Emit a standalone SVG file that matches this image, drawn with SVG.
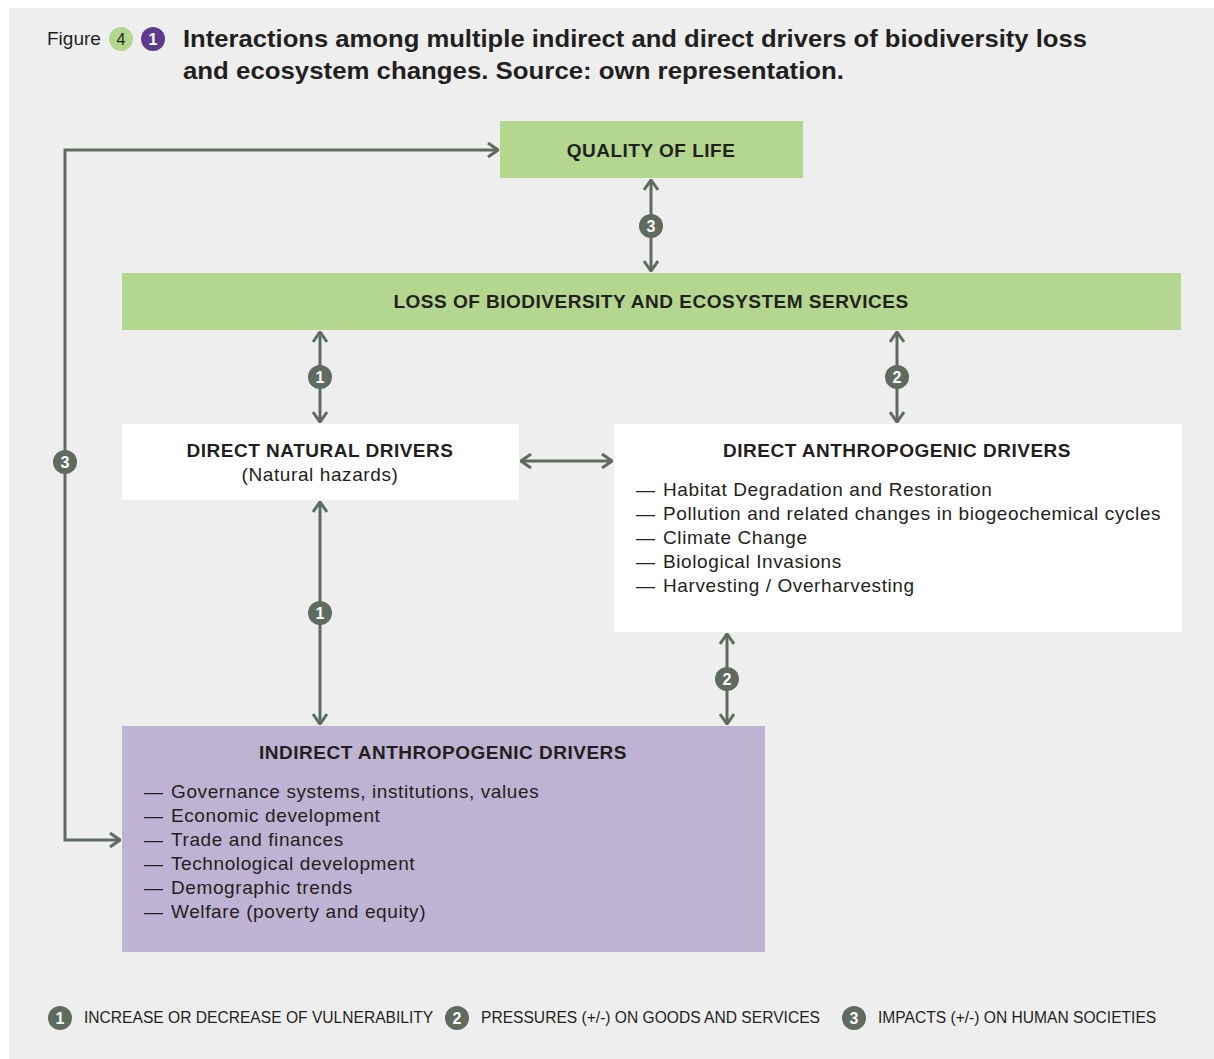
<svg xmlns="http://www.w3.org/2000/svg" width="1214" height="1059" viewBox="0 0 1214 1059">
<defs>
<style>
.t{font-family:"Liberation Sans",Arial,sans-serif;fill:#231F20}
.b{font-weight:bold}
.h{font-size:19px;font-weight:bold;text-anchor:middle;letter-spacing:0.5px}
.li{font-size:19px;letter-spacing:0.6px}
.lg{font-size:15.6px}
.ln{fill:none;stroke:#5E6B5E;stroke-width:3}
.bd{fill:#5E6B5E}
.bn{font-family:"Liberation Sans",Arial,sans-serif;font-size:16px;font-weight:bold;fill:#fff;text-anchor:middle}
</style>
<marker id="ah" viewBox="0 0 12 16" refX="11" refY="8" markerWidth="12" markerHeight="16" markerUnits="userSpaceOnUse" orient="auto-start-reverse">
<path d="M1,1 L11,8 L1,15" fill="none" stroke="#5E6B5E" stroke-width="3"/>
</marker>
</defs>
<rect x="0" y="0" width="1214" height="1059" fill="#fff"/>
<rect x="9" y="8" width="1205" height="1051" fill="#EEEEEE"/>

<g id="title">
<text class="t" x="47" y="45" font-size="19">Figure</text>
<circle cx="121" cy="39" r="12" fill="#B3D78E"/>
<text class="t" x="121" y="45" font-size="16" text-anchor="middle">4</text>
<circle cx="153" cy="39" r="12" fill="#5E3A8C"/>
<text class="bn" x="153" y="45">1</text>
<text class="t b" x="183" y="47" font-size="24" textLength="904" lengthAdjust="spacingAndGlyphs">Interactions among multiple indirect and direct drivers of biodiversity loss</text>
<text class="t b" x="183" y="79" font-size="24" textLength="661" lengthAdjust="spacingAndGlyphs">and ecosystem changes. Source: own representation.</text>
</g>

<g id="connectors">
<path class="ln" d="M651,180 V271" marker-start="url(#ah)" marker-end="url(#ah)"/>
<path class="ln" d="M320,332 V422" marker-start="url(#ah)" marker-end="url(#ah)"/>
<path class="ln" d="M897,332 V422" marker-start="url(#ah)" marker-end="url(#ah)"/>
<path class="ln" d="M521,461 H612" marker-start="url(#ah)" marker-end="url(#ah)"/>
<path class="ln" d="M320,502 V724" marker-start="url(#ah)" marker-end="url(#ah)"/>
<path class="ln" d="M727,634 V724" marker-start="url(#ah)" marker-end="url(#ah)"/>
<path class="ln" d="M498,150 H65 V840 H120" marker-start="url(#ah)" marker-end="url(#ah)"/>
<circle class="bd" cx="651" cy="226" r="12"/><text class="bn" x="651" y="232">3</text>
<circle class="bd" cx="320" cy="377" r="12"/><text class="bn" x="320" y="383">1</text>
<circle class="bd" cx="897" cy="377" r="12"/><text class="bn" x="897" y="383">2</text>
<circle class="bd" cx="320" cy="613" r="12"/><text class="bn" x="320" y="619">1</text>
<circle class="bd" cx="727" cy="679" r="12"/><text class="bn" x="727" y="685">2</text>
<circle class="bd" cx="65" cy="462" r="12"/><text class="bn" x="65" y="468">3</text>
</g>

<g id="quality">
<rect x="500" y="121" width="303" height="57" fill="#B3D78E"/>
<text class="t h" x="651" y="157">QUALITY OF LIFE</text>
</g>

<g id="loss">
<rect x="122" y="273" width="1059" height="57" fill="#B3D78E"/>
<text class="t h" x="651" y="308">LOSS OF BIODIVERSITY AND ECOSYSTEM SERVICES</text>
</g>

<g id="natural">
<rect x="122" y="424" width="397" height="76" fill="#fff"/>
<text class="t h" x="320" y="457">DIRECT NATURAL DRIVERS</text>
<text class="t li" x="320" y="481" text-anchor="middle">(Natural hazards)</text>
</g>

<g id="anthropogenic">
<rect x="614" y="424" width="568" height="208" fill="#fff"/>
<text class="t h" x="897" y="457">DIRECT ANTHROPOGENIC DRIVERS</text>
<text class="t li" x="636" y="496">—</text><text class="t li" x="663" y="496">Habitat Degradation and Restoration</text>
<text class="t li" x="636" y="520">—</text><text class="t li" x="663" y="520">Pollution and related changes in biogeochemical cycles</text>
<text class="t li" x="636" y="544">—</text><text class="t li" x="663" y="544">Climate Change</text>
<text class="t li" x="636" y="568">—</text><text class="t li" x="663" y="568">Biological Invasions</text>
<text class="t li" x="636" y="592">—</text><text class="t li" x="663" y="592">Harvesting / Overharvesting</text>
</g>

<g id="indirect">
<rect x="122" y="726" width="643" height="226" fill="#BEB3D3"/>
<text class="t h" x="443" y="759">INDIRECT ANTHROPOGENIC DRIVERS</text>
<text class="t li" x="144" y="798">—</text><text class="t li" x="171" y="798">Governance systems, institutions, values</text>
<text class="t li" x="144" y="822">—</text><text class="t li" x="171" y="822">Economic development</text>
<text class="t li" x="144" y="846">—</text><text class="t li" x="171" y="846">Trade and finances</text>
<text class="t li" x="144" y="870">—</text><text class="t li" x="171" y="870">Technological development</text>
<text class="t li" x="144" y="894">—</text><text class="t li" x="171" y="894">Demographic trends</text>
<text class="t li" x="144" y="918">—</text><text class="t li" x="171" y="918">Welfare (poverty and equity)</text>
</g>

<g id="legend">
<circle class="bd" cx="60" cy="1018" r="12"/><text class="bn" x="60" y="1024">1</text>
<text class="t lg" x="84" y="1023">INCREASE OR DECREASE OF VULNERABILITY</text>
<circle class="bd" cx="457" cy="1018" r="12"/><text class="bn" x="457" y="1024">2</text>
<text class="t lg" x="481" y="1023">PRESSURES (+/-) ON GOODS AND SERVICES</text>
<circle class="bd" cx="854" cy="1018" r="12"/><text class="bn" x="854" y="1024">3</text>
<text class="t lg" x="878" y="1023">IMPACTS (+/-) ON HUMAN SOCIETIES</text>
</g>
</svg>
